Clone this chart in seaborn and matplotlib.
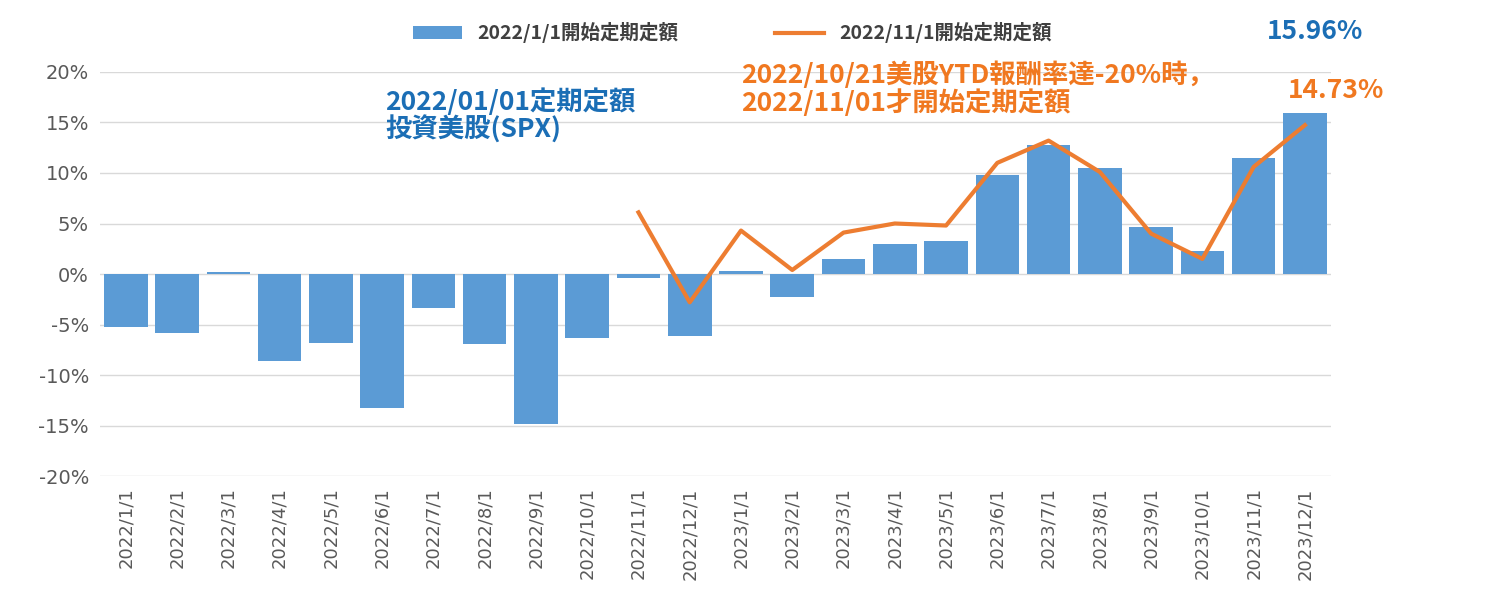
import numpy as np
import pandas as pd
import matplotlib.pyplot as plt
import seaborn as sns

plt.rcParams["font.family"] = ["Noto Sans CJK JP", "Noto Sans CJK TC", "Noto Sans CJK SC", "DejaVu Sans"]

months = ["2022/1/1", "2022/2/1", "2022/3/1", "2022/4/1", "2022/5/1", "2022/6/1",
          "2022/7/1", "2022/8/1", "2022/9/1", "2022/10/1", "2022/11/1", "2022/12/1",
          "2023/1/1", "2023/2/1", "2023/3/1", "2023/4/1", "2023/5/1", "2023/6/1",
          "2023/7/1", "2023/8/1", "2023/9/1", "2023/10/1", "2023/11/1", "2023/12/1"]
ret_jan = [-5.2, -5.8, 0.2, -8.6, -6.8, -13.3, -3.4, -6.9, -14.8, -6.3, -0.4, -6.1,
           0.3, -2.3, 1.5, 3.0, 3.3, 9.8, 12.8, 10.5, 4.7, 2.3, 11.5, 15.96]
ret_nov = [6.1, -2.8, 4.3, 0.4, 4.1, 5.0, 4.8, 11.0, 13.2, 10.1, 4.0, 1.5, 10.6, 14.73]

blue = "#5B9BD5"
orange = "#ED7D31"
df = pd.DataFrame({"month": months, "ret": ret_jan})

fig = plt.figure(figsize=(14.95, 5.99), dpi=100)
ax = fig.add_axes([0.067, 0.205, 0.823, 0.675])

sns.barplot(data=df, x="month", y="ret", color=blue, width=0.85, saturation=1,
            ax=ax, label="2022/1/1開始定期定額")
sns.lineplot(x=np.arange(10, 24), y=ret_nov, color=orange, linewidth=3,
             ax=ax, label="2022/11/1開始定期定額")

ax.set_xlim(-0.5, 23.5)
ax.set_ylim(-20, 20)
ax.set_yticks(range(-20, 21, 5))
ax.set_yticklabels([f"{v}%" for v in range(-20, 21, 5)], fontsize=14, color="#595959",
                   fontfamily="DejaVu Sans")
ax.set_xticks(range(24))
ax.set_xticklabels(months, rotation=90, fontsize=13, color="#595959", fontfamily="DejaVu Sans")
ax.set_xlabel("")
ax.set_ylabel("")
ax.grid(axis="y", color="#D9D9D9", linewidth=1)
ax.set_axisbelow(True)
for s in ["top", "right", "left", "bottom"]:
    ax.spines[s].set_visible(False)
ax.tick_params(length=0, pad=8)

h, l = ax.get_legend_handles_labels()
ax.get_legend().remove()
order = [l.index("2022/1/1開始定期定額"), l.index("2022/11/1開始定期定額")]
leg = fig.legend([h[i] for i in order], [l[i] for i in order], loc="center",
                 bbox_to_anchor=(0.49, 0.945), ncol=2, frameon=False,
                 prop={"size": 14, "weight": "bold"}, handlelength=2.5, columnspacing=5)
for t in leg.get_texts():
    t.set_color("#404040")

ax.text(5.06, 18.4, "2022/01/01定期定額\n投資美股(SPX)", color="#1B6EB5", fontsize=19,
        fontweight="bold", va="top", ha="left", linespacing=1.0)
ax.text(12.0, 21.0, "2022/10/21美股YTD報酬率達-20%時，\n2022/11/01才開始定期定額",
        color="#F07820", fontsize=19, fontweight="bold", va="top", ha="left",
        linespacing=1.0, clip_on=False)
ax.text(23.2, 24.0, "15.96%", color="#1B6EB5", fontsize=19, fontweight="bold",
        ha="center", va="center", clip_on=False)
ax.text(23.6, 18.2, "14.73%", color="#F07820", fontsize=19, fontweight="bold",
        ha="center", va="center", clip_on=False)

fig.savefig("out.png", dpi=100)
